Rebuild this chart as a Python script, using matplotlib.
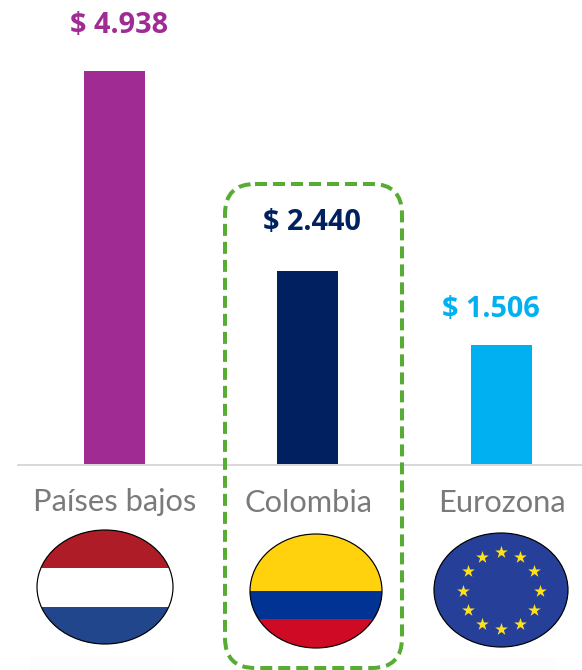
import numpy as np
from matplotlib import pyplot as plt
import matplotlib.patches as patches

# values
categories = ["Países bajos", "Colombia", "Eurozona"]
values = [4938, 2440, 1506]
value_labels = ["$ 4.938", "$ 2.440", "$ 1.506"]
bar_colors = ["#A02B93", "#002060", "#00B0F0"]

W, H = 582, 670
PX = 72 / 100  # points per pixel at dpi 100

fig = plt.figure(figsize=(W / 100, H / 100), dpi=100, facecolor="white")

# chart axes, its lower edge is the baseline at y=465 px
base_y = 465
left, right = 18, 582
ax = fig.add_axes([left / W, 1 - base_y / H, (right - left) / W, base_y / H])
step = 193.4
first = 114.4
ax.set_xlim((left - first) / step, (right - first) / step)
ax.set_ylim(0, base_y / (393.6 / 4938))
x = np.arange(len(categories))
ax.bar(x, values, width=61 / step, color=bar_colors)
for s in ["top", "left", "right"]:
    ax.spines[s].set_visible(False)
ax.spines["bottom"].set_color("#D9D9D9")
ax.spines["bottom"].set_linewidth(2 * PX)
ax.set_yticks([])
ax.set_xticks([])
ax.patch.set_alpha(0)

# value labels, offset from the bar top in pixels
label_font = "Open Sans"
offsets = [(5, 46), (4, 48), (-10, 35)]
for i in x:
    dx, dy = offsets[i]
    ax.annotate(value_labels[i], (i, values[i]), xytext=(dx * PX, dy * PX),
                textcoords="offset points", ha="center", va="center",
                fontsize=20.8, fontweight="bold", color=bar_colors[i],
                family=label_font, annotation_clip=False)

# overlay in pixel coordinates for names, flags and the dashed box
over = fig.add_axes([0, 0, 1, 1])
over.set_xlim(0, W)
over.set_ylim(H, 0)
over.axis("off")
over.patch.set_alpha(0)

name_x = [115, 308, 501.5]
for name, nx in zip(categories, name_x):
    over.text(nx, 502.5, name, ha="center", va="center", fontsize=22.2,
              color="#7A7A7A", family="Lato")

# faint shadow under the flags
for x0, x1, y0 in [(30, 172, 655), (440, 557, 658)]:
    over.add_patch(patches.Rectangle((x0, y0), x1 - x0, H - y0, fc="#FDFDFD", ec="none", zorder=1))


def flag(cx, cy, w, h, bands):
    oval = patches.Ellipse((cx, cy), w, h, fc="none", ec="black", lw=1.2 * PX, zorder=4)
    over.add_patch(oval)
    for y0, y1, col in bands:
        r = patches.Rectangle((cx - w / 2, y0), w, y1 - y0, fc=col, ec="none", zorder=3)
        over.add_patch(r)
        r.set_clip_path(oval)


flag(105, 587, 136, 114, [(530, 568, "#AE1C28"), (568, 607, "#FFFFFF"), (607, 644, "#21468B")])
flag(316, 591, 132, 114, [(534, 591, "#FFD20D"), (591, 619, "#003393"), (619, 648, "#CE0A24")])
flag(501, 590, 134, 114, [(533, 647, "#26409A")])

ang = np.deg2rad(np.arange(0, 360, 30))
over.scatter(501 + 38.5 * np.cos(ang), 590.5 + 38.5 * np.sin(ang), marker="*", s=90,
             color="#FFE11A", linewidths=0, zorder=5)

box = patches.FancyBboxPatch((225 + 30, 184 + 30), 177 - 60, 484 - 60,
                             boxstyle="round,pad=30,rounding_size=30",
                             fc="none", ec="#57AD33", lw=4 * PX,
                             linestyle=(0, (3.0, 1.5)), zorder=6, clip_on=False)
over.add_patch(box)

fig.savefig("out.png", dpi=100)
